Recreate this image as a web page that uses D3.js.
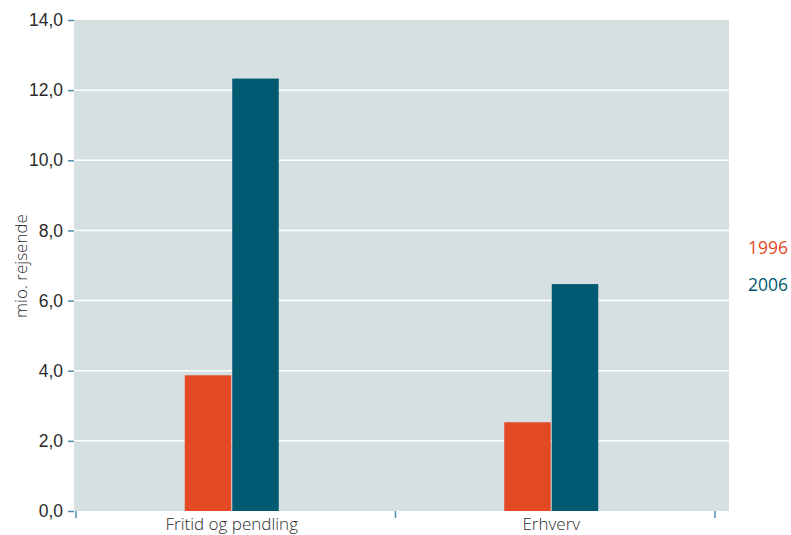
<!DOCTYPE html>
<html>
<head>
<meta charset="utf-8">
<script src="https://cdn.jsdelivr.net/npm/d3@7"></script>
<style>
  body { margin: 0; background: #fff; }
  svg { display: block; font-family: "Open Sans", "Noto Sans", sans-serif; }
</style>
</head>
<body>
<svg id="chart" width="791" height="535"></svg>
<script>
// Travellers (million) by purpose of trip
const categories = ["Fritid og pendling", "Erhverv"];
const years = ["1996", "2006"];
const values1996 = [3.87, 2.53];
const values2006 = [12.33, 6.47];
const yTicks = [0, 2, 4, 6, 8, 10, 12, 14];
const yLabel = "mio. rejsende";

const colors = { "1996": "#e34a24", "2006": "#005a72" };
const tickColor = "#4b8fad";
const textColor = "#2b2b2b";

const svg = d3.select("#chart");
const plot = { left: 74, right: 729, top: 20, bottom: 511 };

const y = d3.scaleLinear().domain([0, 14]).range([plot.bottom, plot.top]);
const x0 = d3.scaleBand().domain(categories).range([76, 715]).padding(0);
const barW = 46, barGap = 2;
const x1 = d3.scaleBand().domain(years).range([0, barW * 2 + barGap]).paddingInner(barGap / (barW * 2 + barGap));

// plot background
svg.append("rect")
  .attr("x", plot.left).attr("y", plot.top)
  .attr("width", plot.right - plot.left).attr("height", plot.bottom - plot.top)
  .attr("fill", "#d7e0e1");

// horizontal grid
svg.append("g").selectAll("line")
  .data(yTicks.filter(t => t > 0 && t < 14))
  .join("line")
  .attr("x1", plot.left).attr("x2", plot.right)
  .attr("y1", d => y(d)).attr("y2", d => y(d))
  .attr("stroke", "#fff").attr("stroke-width", 1.5);

// bars
const rows = categories.map((c, i) => ({ cat: c, vals: { "1996": values1996[i], "2006": values2006[i] } }));
const groupOffset = -4;
svg.append("g").selectAll("g")
  .data(rows)
  .join("g")
  .attr("transform", d => `translate(${x0(d.cat) + x0.bandwidth() / 2 - (barW * 2 + barGap) / 2 + groupOffset},0)`)
  .selectAll("rect")
  .data(d => years.map(yr => ({ yr, v: d.vals[yr] })))
  .join("rect")
  .attr("x", d => x1(d.yr))
  .attr("width", x1.bandwidth())
  .attr("y", d => y(d.v))
  .attr("height", d => y(0) - y(d.v))
  .attr("fill", d => colors[d.yr]);

// y axis
const yAxis = d3.axisLeft(y).tickValues(yTicks).tickSize(6).tickPadding(5)
  .tickFormat(d => d3.format(".1f")(d).replace(".", ","));
const gy = svg.append("g").attr("transform", `translate(${plot.left},0)`).call(yAxis);
gy.select(".domain").remove();
gy.selectAll(".tick line").attr("stroke", tickColor).attr("stroke-width", 1.5);
gy.selectAll(".tick text").attr("fill", textColor).style("font-size", "17.5px").attr("font-weight", 300);

// x axis ticks at band boundaries
const boundaries = [x0.range()[0], ...categories.map(c => x0(c) + x0.bandwidth())];
svg.append("g").selectAll("line")
  .data(boundaries)
  .join("line")
  .attr("x1", d => d).attr("x2", d => d)
  .attr("y1", plot.bottom).attr("y2", plot.bottom + 7)
  .attr("stroke", tickColor).attr("stroke-width", 1.5);

svg.append("g").selectAll("text")
  .data(categories)
  .join("text")
  .attr("x", d => x0(d) + x0.bandwidth() / 2 + groupOffset)
  .attr("y", 530)
  .attr("text-anchor", "middle")
  .attr("fill", textColor)
  .style("font-size", "17px")
  .attr("font-weight", 300)
  .text(d => d);

// y label
svg.append("text")
  .attr("transform", "translate(27,266) rotate(-90)")
  .attr("text-anchor", "middle")
  .attr("fill", textColor)
  .style("font-size", "17px")
  .attr("font-weight", 300)
  .text(yLabel);

// legend
svg.append("g").selectAll("text")
  .data(years)
  .join("text")
  .attr("x", 748)
  .attr("y", (d, i) => 254 + i * 37)
  .attr("fill", d => colors[d])
  .style("font-size", "17.5px")
  .text(d => d);
</script>
</body>
</html>
